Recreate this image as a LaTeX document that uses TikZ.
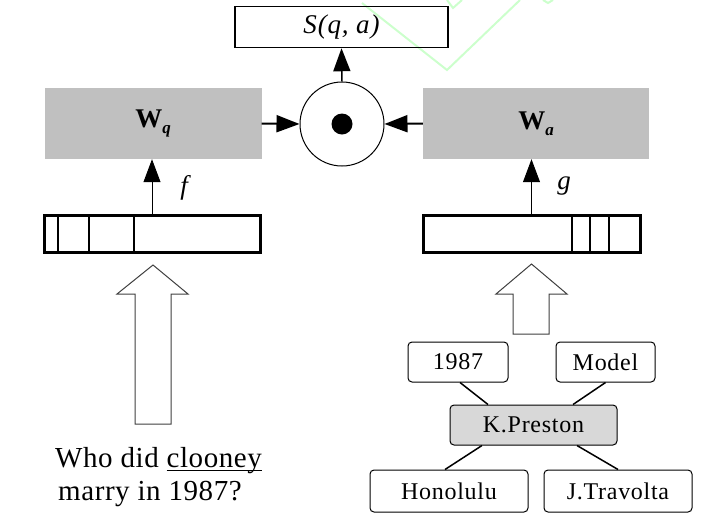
\documentclass[tikz,border=0pt]{standalone}
\usepackage{fontspec}
\setmainfont{Liberation Serif}
\newfontfamily\spacedfont[LetterSpace=3]{Liberation Serif}
\newfontfamily\qfont[LetterSpace=2]{Liberation Serif}
\usetikzlibrary{arrows.meta}
\definecolor{wgray}{RGB}{192,192,192}
\definecolor{kgray}{RGB}{216,216,216}
\definecolor{wmark}{RGB}{204,255,204}
\newcommand{\myuline}[1]{\setbox0\hbox{#1}\rlap{\rule[-4pt]{\wd0}{1.3pt}}\box0}
\begin{document}
\begin{tikzpicture}[x=1pt,y=-1pt,
  bigarrow/.style={-{Triangle[length=23pt,width=17pt]}},
  wbox/.style={fill=wgray,draw=none,inner sep=0pt},
  vecbox/.style={draw=black,line width=3pt,inner sep=0pt},
  graphbox/.style={draw=black,line width=1pt,rounded corners=4pt,inner sep=0pt,
    font=\spacedfont\fontsize{24}{28}\selectfont},
  hollow/.style={draw=black!75,line width=1pt,fill=white},
  divider/.style={line width=2.5pt},
  edge/.style={line width=1.5pt},
  qtext/.style={anchor=base west,inner sep=0pt,font=\qfont\fontsize{29}{33}\selectfont}]
\useasboundingbox (0,0) rectangle (712,523);
% faint watermark lines
\draw[wmark,line width=2pt] (362,3) -- (447,70) -- (520,0);
\draw[wmark,line width=2pt] (447,0) -- (453,8) -- (462,0);
\draw[wmark,line width=2pt] (543,0) -- (548,3) -- (553,0);
% score box
\node[draw=black,line width=1.5pt,minimum width=213pt,minimum height=41pt,inner sep=0pt,
  font=\spacedfont\itshape\fontsize{27}{30}\selectfont] (s) at (341.5,27) {S(q, a)};
% product circle
\node[draw=black,line width=1pt,circle,minimum size=84pt,inner sep=0pt] (c) at (342,124) {};
\node[fill=black,circle,minimum size=21pt,inner sep=0pt] (dot) at (c.center) {};
% W boxes
\node[wbox,minimum width=217pt,minimum height=71pt] (wq) at (153,123.5)
  {\fontsize{27}{30}\selectfont\textbf{W}\raisebox{-6pt}{\fontsize{17}{19}\selectfont\textbf{\textit{q}}}};
\node[wbox,minimum width=226pt,minimum height=71pt] (wa) at (536,123.5)
  {\fontsize{27}{30}\selectfont\textbf{W}\raisebox{-6pt}{\fontsize{17}{19}\selectfont\textbf{\textit{a}}}};
% arrows into circle and up
\draw[bigarrow,line width=2pt] (wq.east) -- (c.west);
\draw[bigarrow,line width=2pt] (wa.west) -- (c.east);
\draw[bigarrow,line width=1.5pt] (c.north) -- (s.south);
% vectors
\node[vecbox,minimum width=216pt,minimum height=37pt] (lv) at (152,233.5) {};
\node[vecbox,minimum width=217pt,minimum height=37pt] (rv) at (531.5,233.5) {};
\foreach \xx in {58,89,134} \draw[divider] (\xx,215) -- (\xx,252);
\foreach \xx in {572,590,609} \draw[divider] (\xx,215) -- (\xx,252);
\draw[bigarrow,line width=1pt] (lv.north) -- (lv.north |- wq.south);
\draw[bigarrow,line width=1pt] (rv.north) -- (rv.north |- wa.south);
\node[font=\itshape\fontsize{27}{30}\selectfont] (f) at (184,188) {f};
\node[font=\itshape\fontsize{27}{30}\selectfont] (g) at (564,186) {g};
% hollow arrows
\draw[hollow] (135,424) -- (135,294) -- (117,294) -- (153,265) -- (188,294) -- (171,294) -- (171,424) -- cycle;
\draw[hollow] (513,334) -- (513,294) -- (496,294) -- (531.5,264) -- (567,294) -- (549,294) -- (549,334) -- cycle;
% question text
\node[qtext] (q1) at (55,467) {Who did \myuline{clooney}};
\node[qtext] (q2) at (58,500) {marry in 1987?};
% knowledge graph
\node[graphbox,minimum width=100pt,minimum height=40pt] (n1987) at (458,362) {1987};
\node[graphbox,minimum width=99pt,minimum height=40pt] (model) at (605.5,362) {Model};
\node[graphbox,fill=kgray,minimum width=167pt,minimum height=40pt] (kp) at (533.5,425) {K.Preston};
\node[graphbox,minimum width=158pt,minimum height=42pt] (hon) at (449,491) {Honolulu};
\node[graphbox,minimum width=148pt,minimum height=42pt] (jt) at (618,491) {J.Travolta};
\draw[edge] ([xshift=2pt]n1987.south) -- ([xshift=-45.5pt]kp.north);
\draw[edge] (model.south) -- ([xshift=39.5pt]kp.north);
\draw[edge] ([xshift=-51.5pt]kp.south) -- ([xshift=-4pt]hon.north);
\draw[edge] ([xshift=43.5pt]kp.south) -- (jt.north);
\end{tikzpicture}
\end{document}
